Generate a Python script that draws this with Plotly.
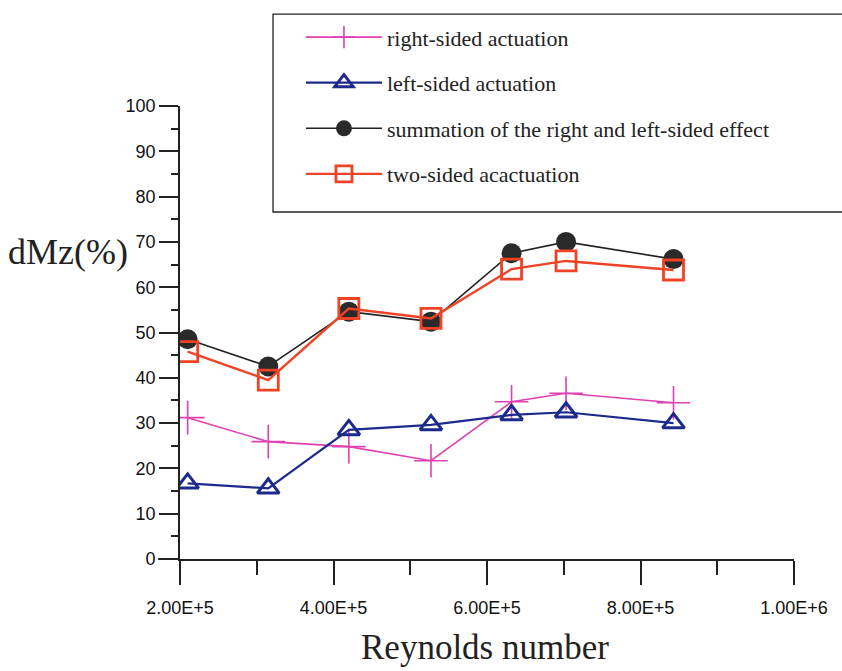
import plotly.graph_objects as go

# Data
reynolds = [2.10e5, 3.15e5, 4.20e5, 5.27e5, 6.32e5, 7.03e5, 8.43e5]
right_sided = [31.2, 25.9, 24.8, 21.7, 34.7, 36.6, 34.5]
left_sided = [16.7, 15.6, 28.5, 29.6, 31.8, 32.4, 30.0]
summation = [48.5, 42.5, 54.6, 52.4, 67.5, 70.0, 66.2]
two_sided = [45.8, 39.5, 55.3, 53.1, 64.0, 65.8, 63.8]

series_names = [
    "right-sided actuation",
    "left-sided actuation",
    "summation of the right and left-sided effect",
    "two-sided acactuation",
]

x_tick_vals = [2e5, 4e5, 6e5, 8e5, 1e6]
x_tick_labels = ["2.00E+5", "4.00E+5", "6.00E+5", "8.00E+5", "1.00E+6"]
y_tick_vals = [0, 10, 20, 30, 40, 50, 60, 70, 80, 90, 100]

SANS = "Liberation Sans, Arial, sans-serif"
SERIF = "Liberation Serif, Times New Roman, serif"

fig = go.Figure()

fig.add_trace(go.Scatter(
    x=reynolds, y=right_sided, name=series_names[0], mode="lines+markers",
    legendgroup="a",
    line=dict(color="#e040b0", width=1.6),
    marker=dict(symbol="cross-thin-open", size=24, line=dict(color="#e040b0", width=1.6)),
))
fig.add_trace(go.Scatter(
    x=reynolds, y=left_sided, name=series_names[1], mode="lines+markers",
    legendgroup="b",
    line=dict(color="#1c2a8c", width=2.2),
    marker=dict(symbol="triangle-up-open", size=19, line=dict(color="#1c2a8c", width=3)),
))
fig.add_trace(go.Scatter(
    x=reynolds, y=summation, name=series_names[2], mode="lines+markers",
    legendgroup="c",
    line=dict(color="#222222", width=1.6),
    marker=dict(symbol="circle", size=20, color="#2a2a2a", line=dict(width=0)),
))
fig.add_trace(go.Scatter(
    x=reynolds, y=two_sided, name=series_names[3], mode="lines+markers",
    legendgroup="d",
    line=dict(color="#f04224", width=2.4),
    marker=dict(symbol="square-open", size=20, line=dict(color="#f04224", width=2.8)),
))

fig.update_layout(
    width=842, height=671,
    margin=dict(l=180, r=48, t=106, b=112),
    paper_bgcolor="white", plot_bgcolor="white",
    font=dict(family=SANS, color="#111111"),
    showlegend=True,
    legend=dict(
        x=0.197, y=1.198, xanchor="left", yanchor="top",
        borderwidth=0, bgcolor="rgba(0,0,0,0)",
        font=dict(family=SERIF, size=22, color="#222222"),
        traceorder="grouped", tracegroupgap=14,
        itemwidth=76,
        valign="middle",
    ),
    xaxis=dict(
        range=[2e5, 1e6], showgrid=False, zeroline=False,
        showline=True, linecolor="#222222", linewidth=1.6,
        ticks="outside", ticklen=24, tickwidth=1.5, tickcolor="#222222",
        tickvals=x_tick_vals, ticktext=x_tick_labels,
        tickfont=dict(family=SANS, size=18, color="#111111"),
        ticklabelstandoff=8,
        minor=dict(dtick=1e5, tick0=0, ticks="outside", ticklen=14, tickwidth=1.5, tickcolor="#222222"),
    ),
    yaxis=dict(
        range=[0, 100], showgrid=False, zeroline=False,
        showline=True, linecolor="#222222", linewidth=1.6,
        ticks="outside", ticklen=19, tickwidth=1.5, tickcolor="#222222",
        tickvals=y_tick_vals,
        tickfont=dict(family=SANS, size=18, color="#111111"),
        minor=dict(dtick=5, tick0=0, ticks="outside", ticklen=7, tickwidth=1.5, tickcolor="#222222"),
    ),
)

# legend frame (runs off the right edge like the reference)
fig.add_shape(type="rect", xref="paper", yref="paper", x0=0.1515, x1=1.09, y0=0.766, y1=1.203,
              line=dict(color="#222222", width=1.3), fillcolor="rgba(0,0,0,0)", layer="below")

# x-axis line extends a little to the left of the y axis
fig.add_shape(type="line", xref="paper", yref="paper", x0=-0.036, x1=0, y0=0, y1=0,
              line=dict(color="#222222", width=1.6))

fig.add_annotation(text="dMz(%)", xref="paper", yref="paper", x=-0.283, y=0.678,
                   xanchor="left", yanchor="middle", showarrow=False,
                   font=dict(family=SERIF, size=36, color="#222222"))
fig.add_annotation(text="Reynolds number", xref="paper", yref="paper", x=0.497, y=-0.196,
                   xanchor="center", yanchor="middle", showarrow=False,
                   font=dict(family=SERIF, size=35, color="#222222"))

fig.write_html("out.html")
